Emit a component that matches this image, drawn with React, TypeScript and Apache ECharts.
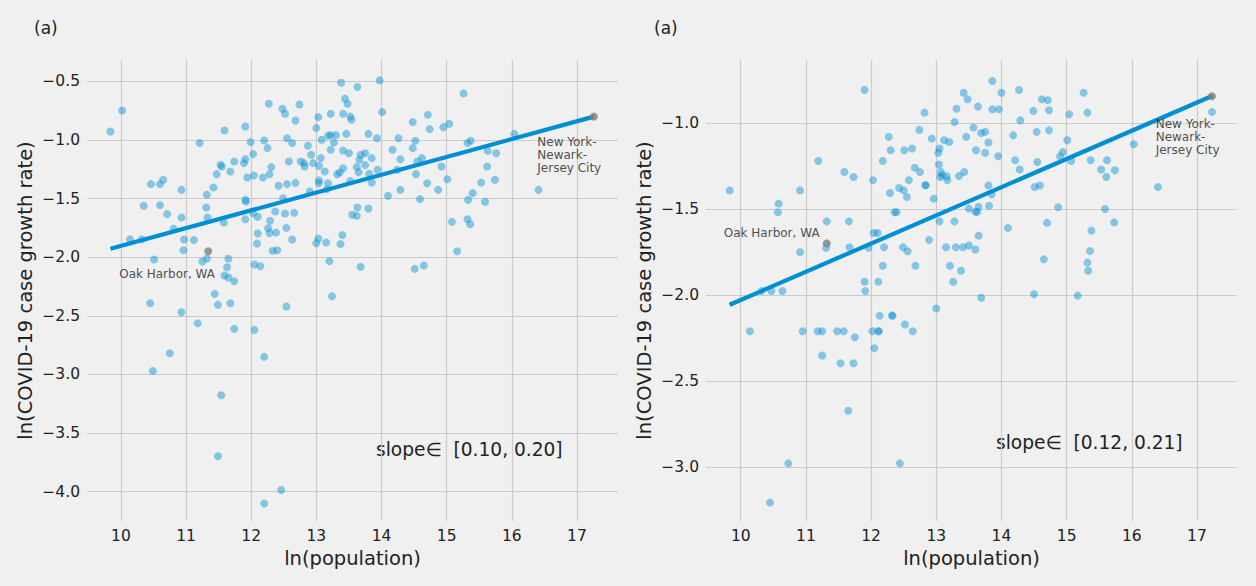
import React, { useEffect, useRef } from "react";
import * as echarts from "echarts";

const FONT = "DejaVu Sans";
const TEXT = "#222222";
const BLUE = "#008fd5";

const xTicks = [10, 11, 12, 13, 14, 15, 16, 17];
const leftYTicks = [-4.0, -3.5, -3.0, -2.5, -2.0, -1.5, -1.0, -0.5];
const rightYTicks = [-3.0, -2.5, -2.0, -1.5, -1.0];

const panelTags = ["(a)", "(a)"];
const slopeTexts = ["slope\u2208  [0.10, 0.20]", "slope\u2208  [0.12, 0.21]"];
const xTitle = "ln(population)";
const yTitle = "ln(COVID-19 case growth rate)";

// left panel: [ln(population), ln(growth rate)]
const leftPoints = [
  [9.84, -0.927], [10.02, -0.748], [11.21, -1.026], [11.59, -0.918], [11.91, -0.884], [12.27, -0.69],
  [12.48, -0.733], [12.52, -0.776], [12.74, -0.696], [12.68, -0.833], [11.99, -1.018], [12.2, -1.004],
  [12.25, -1.069], [12.55, -0.984], [12.63, -1.026], [12.03, -1.12], [11.91, -1.163], [11.89, -1.197],
  [11.74, -1.183], [11.53, -1.211], [11.55, -1.225], [11.68, -1.268], [11.47, -1.291], [11.42, -1.405],
  [11.32, -1.467], [11.31, -1.575], [11.33, -1.661], [11.58, -1.703], [10.93, -1.425], [10.46, -1.376],
  [10.6, -1.376], [10.65, -1.339], [10.35, -1.561], [10.6, -1.555], [10.71, -1.632], [10.93, -1.661],
  [10.81, -1.757], [10.14, -1.846], [10.32, -1.846], [10.97, -1.849], [11.12, -1.854], [10.96, -1.94],
  [10.51, -2.019], [11.25, -2.036], [11.32, -2.01], [11.65, -2.013], [11.63, -2.085], [11.59, -2.156],
  [11.65, -2.173], [11.74, -2.204], [11.44, -2.312], [12.05, -2.062], [12.14, -2.076], [11.94, -1.319],
  [12.04, -1.302], [12.18, -1.319], [12.28, -1.291], [12.31, -1.231], [11.91, -1.51], [11.92, -1.524],
  [11.91, -1.675], [12.03, -1.624], [12.1, -1.655], [12.29, -1.689], [12.26, -1.752], [12.28, -1.794],
  [12.38, -1.789], [12.1, -1.797], [12.09, -1.883], [12.37, -1.61], [12.49, -1.496], [12.52, -1.627],
  [12.66, -1.621], [12.54, -1.749], [12.63, -1.849], [12.33, -1.945], [12.4, -1.94], [12.42, -1.39],
  [12.55, -1.376], [12.68, -1.365], [12.58, -1.183], [12.76, -1.183], [12.81, -1.197], [12.82, -1.225],
  [12.87, -1.049], [12.92, -1.126], [12.95, -1.197], [13.07, -1.154], [13.04, -1.22], [13.13, -1.268],
  [12.9, -1.439], [13.04, -1.345], [13.04, -1.368], [13.18, -1.368], [13.16, -1.419], [13.0, -0.898],
  [13.03, -0.804], [13.22, -0.776], [13.08, -0.998], [13.18, -0.963], [13.22, -0.958], [13.3, -0.958],
  [13.27, -1.021], [13.22, -1.083], [13.38, -0.511], [13.44, -0.648], [13.48, -0.69], [13.41, -0.776],
  [13.41, -1.089], [13.46, -0.947], [13.32, -1.291], [13.36, -1.277], [13.41, -1.24], [13.0, -1.88],
  [13.03, -1.84], [13.15, -1.874], [13.37, -1.888], [13.4, -1.811], [13.2, -2.033], [13.24, -2.332],
  [13.55, -1.638], [13.52, -0.8], [13.54, -0.827], [13.5, -1.112], [13.52, -1.35],
  [13.97, -0.491], [13.63, -0.548], [14.01, -0.762], [13.8, -0.947], [13.93, -0.984], [13.66, -1.169],
  [13.68, -1.126], [13.75, -1.112], [13.85, -1.154], [13.62, -1.231], [13.65, -1.274], [13.75, -1.214],
  [13.81, -1.288], [13.85, -1.362], [13.94, -1.254], [13.63, -1.575], [13.62, -1.647], [13.8, -1.584],
  [13.68, -2.082], [14.1, -1.476], [14.29, -1.425], [14.17, -1.083], [14.29, -1.163], [14.26, -0.984],
  [14.48, -0.847], [14.52, -1.006], [14.48, -1.069], [14.62, -1.154], [14.55, -1.183], [14.53, -1.291],
  [14.7, -1.368], [14.59, -1.504], [14.87, -1.425], [14.71, -0.785], [14.74, -0.907], [14.95, -0.89],
  [15.04, -0.861], [14.92, -1.225], [15.01, -1.334], [15.26, -0.602], [15.32, -1.026], [15.37, -1.006],
  [15.63, -1.092], [15.76, -1.112], [15.62, -1.225], [15.53, -1.362], [15.74, -1.339], [15.4, -1.453],
  [15.33, -1.51], [15.59, -1.527], [15.32, -1.675], [15.36, -1.718], [15.08, -1.698], [15.16, -1.948],
  [14.51, -2.099], [14.65, -2.07], [16.04, -0.947], [16.41, -1.425], [14.24, -1.254],
  [10.45, -2.392], [10.49, -2.97], [10.75, -2.819], [10.93, -2.469], [11.18, -2.563], [11.49, -2.406],
  [11.68, -2.392], [11.74, -2.611], [11.54, -3.177], [11.49, -3.698], [12.05, -2.62], [12.2, -2.85],
  [12.54, -2.42], [12.46, -3.986], [12.2, -4.1],
];
const leftHighlightNames = ["Oak Harbor, WA", "New York-\nNewark-\nJersey City"];
const leftHighlightPoints = [[11.34, -1.948], [17.26, -0.8]];
const leftFitLine = [[9.84, -1.928], [17.26, -0.8]];

// right panel
const rightPoints = [
  [9.83, -1.39], [10.58, -1.467], [10.57, -1.517], [10.91, -1.39], [11.19, -1.219], [11.59, -1.283],
  [11.73, -1.312], [11.32, -1.57], [11.66, -1.57], [11.31, -1.723], [10.91, -1.75], [11.67, -1.721],
  [10.32, -1.975], [10.47, -1.975], [10.64, -1.975], [11.9, -0.806], [12.03, -1.331], [12.18, -1.219],
  [12.27, -1.079], [12.3, -1.157], [12.51, -1.157], [12.63, -1.147], [12.29, -1.405], [12.43, -1.376],
  [12.5, -1.39], [12.55, -1.428], [12.58, -1.331], [12.67, -1.258], [12.75, -1.283], [12.83, -1.36],
  [12.84, -1.36], [12.74, -1.039], [12.82, -0.938], [12.93, -1.089], [12.96, -1.438], [12.36, -1.517],
  [12.39, -1.517], [12.04, -1.638], [12.1, -1.638], [11.96, -1.723], [12.2, -1.721], [12.49, -1.721],
  [12.56, -1.744], [12.18, -1.828], [12.68, -1.828], [12.89, -1.678], [11.9, -1.921], [11.91, -1.975],
  [12.11, -1.921], [13.03, -1.172], [13.05, -1.147], [13.04, -1.24], [13.07, -1.283], [13.06, -1.312],
  [13.09, -1.302], [13.16, -1.308], [13.17, -1.331], [13.12, -1.099], [13.2, -1.109], [13.28, -0.992],
  [13.31, -0.915], [13.42, -0.822], [13.48, -0.86], [13.46, -1.079], [13.35, -1.306], [13.43, -1.283],
  [13.05, -1.57], [13.28, -1.57], [13.15, -1.721], [13.3, -1.721], [13.41, -1.721], [13.5, -1.71],
  [13.21, -1.828], [13.38, -1.857], [13.26, -1.921], [13.5, -1.496],
  [13.86, -0.754], [14.0, -0.822], [13.64, -0.903], [13.86, -0.919], [13.96, -0.919], [13.57, -1.025],
  [13.69, -1.056], [13.75, -1.05], [13.8, -1.112], [13.61, -1.157], [13.75, -1.171], [13.95, -1.192],
  [14.27, -0.806], [14.29, -0.983], [14.49, -0.928], [14.18, -1.07], [14.54, -1.05], [14.62, -0.86],
  [14.71, -0.866], [14.73, -0.924], [14.73, -1.041], [14.21, -1.215], [14.28, -1.269], [14.55, -1.225],
  [14.51, -1.37], [14.59, -1.362], [13.8, -1.362], [13.85, -1.413], [13.81, -1.479], [13.65, -1.486],
  [13.63, -1.515], [13.6, -1.515], [13.65, -1.653], [13.6, -1.734], [14.1, -1.608], [14.7, -1.579],
  [14.87, -1.488], [14.65, -1.791], [14.5, -1.994], [15.17, -2.002], [13.69, -2.014], [15.04, -0.948],
  [15.26, -0.822], [15.32, -0.938], [15.01, -1.099], [14.94, -1.167], [14.9, -1.192], [15.07, -1.219],
  [15.37, -1.215], [15.62, -1.215], [15.53, -1.269], [15.74, -1.273], [15.61, -1.312], [15.59, -1.498],
  [15.73, -1.576], [15.38, -1.624], [15.36, -1.742], [15.32, -1.81], [15.33, -1.857], [16.03, -1.122],
  [16.4, -1.37], [17.23, -0.934],
  [10.14, -2.209], [10.95, -2.209], [11.18, -2.209], [11.25, -2.209], [11.48, -2.209], [11.58, -2.209],
  [11.75, -2.244], [11.25, -2.35], [11.53, -2.395], [11.73, -2.395], [11.65, -2.671], [10.73, -2.977],
  [10.45, -3.205], [12.02, -2.209], [12.11, -2.209], [12.12, -2.209], [12.05, -2.308], [12.13, -2.118],
  [12.32, -2.118], [12.33, -2.118], [12.52, -2.17], [12.64, -2.209], [12.44, -2.977], [13.0, -2.077],
];
const rightHighlightNames = ["Oak Harbor, WA", "New York-\nNewark-\nJersey City"];
const rightHighlightPoints = [[11.32, -1.698], [17.23, -0.843]];
const rightFitLine = [[9.83, -2.055], [17.24, -0.84]];

const fmtY = (v: number) => (v < 0 ? "\u2212" : "") + Math.abs(v).toFixed(1);

function axisPair(idx: number, xMin: number, xMax: number, yMin: number, yMax: number, yTicks: number[]) {
  const split = { show: true, lineStyle: { color: "#cbcbcb", width: 1.2 } };
  const x = {
    type: "value", gridIndex: idx, min: xMin, max: xMax,
    axisLine: { show: false },
    axisTick: { show: false, customValues: xTicks },
    axisLabel: { customValues: xTicks, margin: 7, fontSize: 15.5, fontFamily: FONT, color: TEXT, formatter: (v: number) => String(v) },
    splitLine: split,
    name: xTitle, nameLocation: "middle", nameGap: 26,
    nameTextStyle: { fontSize: 19.5, fontFamily: FONT, color: TEXT },
  };
  const y = {
    type: "value", gridIndex: idx, min: yMin, max: yMax,
    axisLine: { show: false },
    axisTick: { show: false, customValues: yTicks },
    axisLabel: { customValues: yTicks, margin: 7, fontSize: 15.5, fontFamily: FONT, color: TEXT, formatter: fmtY },
    splitLine: split,
    name: yTitle, nameLocation: "middle", nameGap: 52,
    nameTextStyle: { fontSize: 19.5, fontFamily: FONT, color: TEXT },
  };
  return { x, y };
}

function highlightData(points: number[][], names: string[], offsets: number[][]) {
  return points.map((p, i) => ({
    value: p,
    name: names[i],
    label: {
      show: true,
      position: "inside",
      align: "left",
      verticalAlign: "middle",
      offset: offsets[i],
      formatter: "{b}",
      fontSize: 12,
      lineHeight: 13.4,
      fontFamily: FONT,
      color: TEXT,
    },
  }));
}

export default function App() {
  const ref = useRef<HTMLDivElement>(null);
  useEffect(() => {
    document.body.style.margin = "0";
    if (!ref.current) return;
    const chart = echarts.init(ref.current, undefined, { renderer: "svg" });
    const a0 = axisPair(0, 9.48, 17.63, -4.25, -0.317, leftYTicks);
    const a1 = axisPair(1, 9.467, 17.614, -3.312, -0.632, rightYTicks);
    const scatterStyle = { color: "rgba(0,143,213,0.56)" };
    chart.setOption({
      animation: false,
      backgroundColor: "#f0f0f0",
      textStyle: { fontFamily: FONT },
      grid: [
        { left: 87, top: 60, width: 531, height: 461 },
        { left: 706, top: 60, width: 531, height: 461 },
      ],
      xAxis: [a0.x, a1.x],
      yAxis: [a0.y, a1.y],
      series: [
        { type: "scatter", xAxisIndex: 0, yAxisIndex: 0, data: leftPoints, symbolSize: 8, itemStyle: scatterStyle, z: 2, silent: true },
        { type: "line", xAxisIndex: 0, yAxisIndex: 0, data: leftFitLine, showSymbol: false, symbol: "none", lineStyle: { color: BLUE, width: 4.2 }, z: 3, silent: true },
        {
          type: "scatter", xAxisIndex: 0, yAxisIndex: 0, symbolSize: 8, itemStyle: { color: "#7f7f7f" }, z: 4, silent: true,
          data: highlightData(leftHighlightPoints, leftHighlightNames, [[-89, 23], [-56.6, 38.3]]),
        },
        { type: "scatter", xAxisIndex: 1, yAxisIndex: 1, data: rightPoints, symbolSize: 8, itemStyle: scatterStyle, z: 2, silent: true },
        { type: "line", xAxisIndex: 1, yAxisIndex: 1, data: rightFitLine, showSymbol: false, symbol: "none", lineStyle: { color: BLUE, width: 4.2 }, z: 3, silent: true },
        {
          type: "scatter", xAxisIndex: 1, yAxisIndex: 1, symbolSize: 8, itemStyle: { color: "#7f7f7f" }, z: 4, silent: true,
          data: highlightData(rightHighlightPoints, rightHighlightNames, [[-103, -10.7], [-56.3, 40.7]]),
        },
      ],
      graphic: [
        { type: "text", left: 34, top: 19, style: { text: panelTags[0], fontSize: 17, fontFamily: FONT, fill: TEXT } },
        { type: "text", left: 654, top: 19, style: { text: panelTags[1], fontSize: 17, fontFamily: FONT, fill: TEXT } },
        { type: "text", left: 376, top: 440, style: { text: slopeTexts[0], fontSize: 18.6, fontFamily: FONT, fill: TEXT } },
        { type: "text", left: 996, top: 433, style: { text: slopeTexts[1], fontSize: 18.6, fontFamily: FONT, fill: TEXT } },
      ],
    });
    return () => chart.dispose();
  }, []);
  return <div ref={ref} style={{ position: "fixed", left: 0, top: 0, width: 1256, height: 586 }} />;
}
